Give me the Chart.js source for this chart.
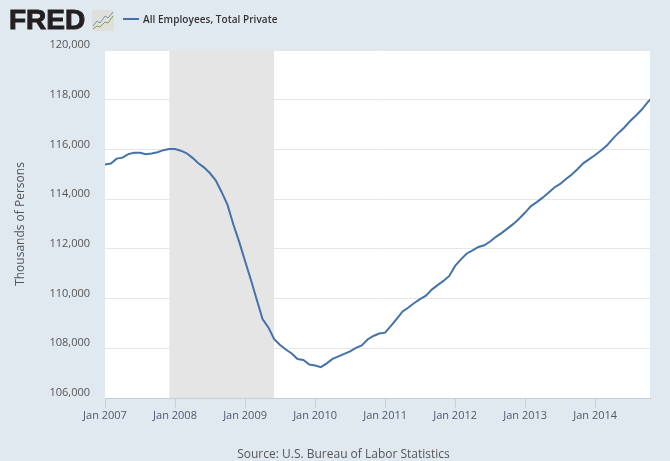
<!DOCTYPE html>
<html>
<head>
<meta charset="utf-8">
<title>All Employees, Total Private</title>
<script src="https://cdn.jsdelivr.net/npm/chart.js@4"></script>
<style>
  html, body { margin:0; padding:0; background:#e1e9f0; }
  #wrap { position:relative; width:670px; height:461px; overflow:hidden; font-family:"Open Sans", sans-serif; }
  #chart { position:absolute; left:0; top:0; }
  #logo { position:absolute; left:9px; top:4px; font:bold 28px/32px "Liberation Sans", sans-serif; color:#231f20; -webkit-text-stroke:1px #231f20; }
  #icon { position:absolute; left:92px; top:10px; }
  #legend { position:absolute; left:123px; top:12px; font-size:10px; line-height:14px; font-weight:600; color:#333; white-space:nowrap; letter-spacing:0.05px; }
  #legend i { display:inline-block; width:16px; height:2px; background:#4572a7; vertical-align:3px; margin-right:4px; }
  #source { position:absolute; left:0; width:687px; top:445px; text-align:center; font-size:12px; line-height:18px; color:#555; }
</style>
</head>
<body>
<div id="wrap">
  <canvas id="chart" width="670" height="461"></canvas>
  <div id="logo">FRED</div>
  <svg id="icon" width="22" height="21" viewBox="0 0 22 21">
    <rect x="0" y="0" width="22" height="21" rx="2" fill="#dfe0dc"/>
    <polyline points="1,16 5,11 8,13 13,6 16,8 21,2" fill="none" stroke="#7f93a8" stroke-width="1"/>
    <polyline points="1,19 5,16 8,17 13,12 16,13 21,6" fill="none" stroke="#7fa04a" stroke-width="1"/>
  </svg>
  <div id="legend"><i></i>All Employees, Total Private</div>
  <div id="source">Source: U.S. Bureau of Labor Statistics</div>
</div>
<script>
const years = [2007, 2008, 2009, 2010, 2011, 2012, 2013, 2014];
const monthNames = ["Jan","Feb","Mar","Apr","May","Jun","Jul","Aug","Sep","Oct","Nov","Dec"];

const employees2007 = [115390,115430,115630,115670,115810,115870,115870,115810,115835,115890,115970,116020];
const employees2008 = [116020,115950,115845,115660,115445,115270,115040,114750,114280,113770,112980,112280];
const employees2009 = [111510,110760,109960,109180,108840,108370,108130,107950,107790,107570,107530,107350];
const employees2010 = [107310,107240,107395,107575,107675,107775,107875,108015,108115,108355,108495,108595];
const employees2011 = [108630,108900,109180,109480,109640,109820,109980,110120,110360,110540,110710,110910];
const employees2012 = [111315,111575,111815,111935,112075,112145,112295,112485,112645,112825,113005,113225];
const employees2013 = [113460,113720,113880,114060,114260,114470,114610,114810,114990,115210,115450,115610];
const employees2014 = [115775,115955,116155,116425,116665,116885,117145,117365,117605,117900,118130];

const yTicks = [106000,108000,110000,112000,114000,116000,118000,120000];
const recessionStart = "Dec 2007";
const recessionEnd = "Jun 2009";
const recessionTop = 120000;
// the axis stops a little before the last month, the line runs off the plot edge
const xAxisEnd = 93.4;

const employees = [].concat(employees2007, employees2008, employees2009, employees2010,
  employees2011, employees2012, employees2013, employees2014);

const labels = [];
years.forEach(y => monthNames.forEach(m => labels.push(m + " " + y)));
labels.length = employees.length;

const startIdx = labels.indexOf(recessionStart);
const endIdx = labels.indexOf(recessionEnd);
const recession = [];
for (let i = startIdx; i <= endIdx; i++) recession.push({ x: i, y: recessionTop });

// white plot area behind the grid
const plotBackground = {
  id: "plotBackground",
  beforeDraw(chart) {
    const a = chart.chartArea;
    chart.ctx.save();
    chart.ctx.fillStyle = "#ffffff";
    chart.ctx.fillRect(a.left, a.top, a.right - a.left, a.bottom - a.top);
    chart.ctx.restore();
  }
};

new Chart(document.getElementById("chart"), {
  type: "line",
  plugins: [plotBackground],
  data: {
    datasets: [
      {
        label: "All Employees, Total Private",
        data: employees.map((v, i) => ({ x: i, y: v })),
        borderColor: "#4572a7",
        borderWidth: 2,
        pointRadius: 0,
        tension: 0,
        fill: false,
        order: 1
      },
      {
        label: "Recession",
        data: recession,
        borderWidth: 0,
        borderColor: "rgba(0,0,0,0)",
        backgroundColor: "#e5e5e5",
        pointRadius: 0,
        tension: 0,
        fill: "start",
        order: 2
      }
    ]
  },
  options: {
    responsive: false,
    animation: false,
    layout: { padding: { top: 50, right: 20, left: 0, bottom: 0 } },
    plugins: { legend: { display: false }, title: { display: false }, tooltip: { enabled: false } },
    scales: {
      x: {
        type: "linear",
        min: 0,
        max: xAxisEnd,
        afterBuildTicks: (s) => {
          s.ticks = years.map(y => ({ value: labels.indexOf("Jan " + y) }));
        },
        afterFit: (s) => { s.height = 63; },
        grid: { display: true, drawOnChartArea: false, drawTicks: true, tickLength: 10, tickColor: "#c0d0e0", tickWidth: 1 },
        border: { display: true, color: "#c0d0e0", width: 1 },
        ticks: {
          autoSkip: false,
          maxRotation: 0,
          minRotation: 0,
          padding: 1,
          color: "#4a5a70",
          font: { family: "'Open Sans'", size: 11 },
          callback: (v) => labels[v]
        }
      },
      y: {
        min: 106000,
        max: 120000,
        afterBuildTicks: (s) => { s.ticks = yTicks.map(v => ({ value: v })); },
        afterFit: (s) => { s.width = 105; },
        grid: { color: "#e6e6e6", lineWidth: 1, drawTicks: false },
        border: { display: false },
        title: {
          display: true,
          text: "Thousands of Persons",
          color: "#555",
          font: { family: "'Open Sans'", size: 12 },
          padding: { top: 13, bottom: 0 }
        },
        ticks: {
          padding: 15,
          labelOffset: -5,
          color: "#555",
          font: { family: "'Open Sans'", size: 11 },
          callback: (v) => v.toLocaleString("en-US")
        }
      }
    }
  }
});
</script>
</body>
</html>
